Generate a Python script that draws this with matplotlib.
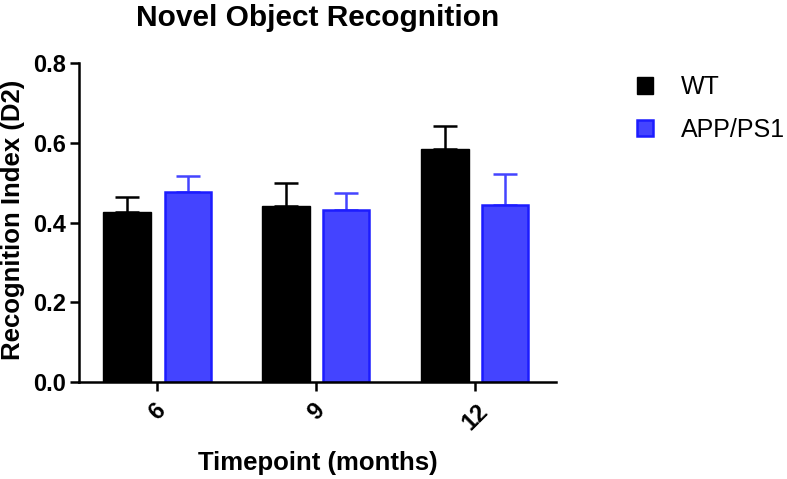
import numpy as np
import matplotlib
matplotlib.use("Agg")
import matplotlib.pyplot as plt
from matplotlib.patches import Patch

plt.rcParams['font.family'] = ['Liberation Sans', 'DejaVu Sans']

# data
timepoints = ["6", "9", "12"]
wt_mean = [0.427, 0.441, 0.584]
wt_sem = [0.038, 0.057, 0.059]
app_mean = [0.476, 0.431, 0.445]
app_sem = [0.041, 0.042, 0.077]

blue_fill = "#4444ff"
blue_edge = "#1c1cff"

fig = plt.figure(figsize=(7.87, 4.79), dpi=100)
ax = fig.add_axes([79 / 787, 1 - 382 / 479, (556 - 79) / 787, (382 - 63) / 479])

x = np.arange(len(timepoints))
off = 0.19

ax.bar(x - off, wt_mean, width=0.3, color="black", edgecolor="black", linewidth=1, zorder=2)
ax.bar(x + off, app_mean, width=0.29, color=blue_fill, edgecolor=blue_edge, linewidth=1.8, zorder=2)

# only the upper half of the error bars, like Prism
ax.errorbar(x - off, wt_mean, yerr=[np.zeros(3), wt_sem], fmt="none", ecolor="black",
            elinewidth=1.8, capsize=8.6, capthick=1.8, zorder=1)
ax.errorbar(x + off, app_mean, yerr=[np.zeros(3), app_sem], fmt="none", ecolor=blue_fill,
            elinewidth=1.8, capsize=8.6, capthick=1.8, zorder=1)

ax.set_xlim(-0.494, 2.51)
ax.set_ylim(0, 0.8)
ax.set_yticks([0.0, 0.2, 0.4, 0.6, 0.8])
ax.set_yticklabels(["0.0", "0.2", "0.4", "0.6", "0.8"], fontsize=17, fontweight="bold")
ax.set_xticks(x)
ax.set_xticklabels(timepoints, fontsize=17, fontweight="bold", rotation=45, ha="center")

for s in ["top", "right"]:
    ax.spines[s].set_visible(False)
for s in ["left", "bottom"]:
    ax.spines[s].set_linewidth(1.8)
ax.tick_params(axis="both", width=1.8, length=6.5, pad=3)
ax.tick_params(axis="x", pad=6)

ax.set_title("Novel Object Recognition", fontsize=21.5, fontweight="bold", pad=27)
fig.text(13 / 787, 1 - 220 / 479, "Recognition Index (D2)", rotation=90, fontsize=18.5,
         fontweight="bold", ha="center", va="center")
fig.text(318 / 787, 1 - 463 / 479, "Timepoint (months)", fontsize=18.5,
         fontweight="bold", ha="center", va="center")

handles = [Patch(facecolor="black", edgecolor="black", linewidth=1),
           Patch(facecolor=blue_fill, edgecolor=blue_edge, linewidth=1.8)]
fig.legend(handles, ["WT", "APP/PS1"], loc="center left", bbox_to_anchor=(637 / 787, 1 - 108.5 / 479),
           frameon=False, fontsize=18, handlelength=0.64, handleheight=0.64,
           handletextpad=1.1, labelspacing=0.75, borderpad=0, borderaxespad=0)

plt.savefig("out.png", dpi=100)
